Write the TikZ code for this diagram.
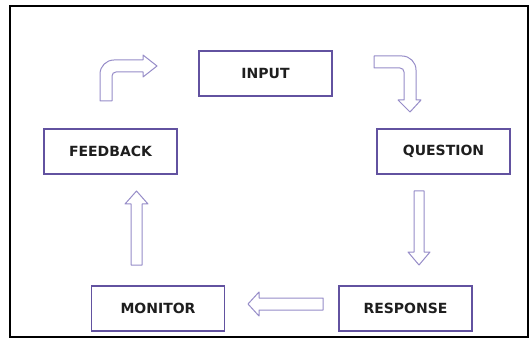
\documentclass[tikz,border=0pt]{standalone}
\usepackage{fontspec}
\newfontfamily\boxfont{DejaVu Sans}
\usetikzlibrary{calc}
\definecolor{boxpurple}{RGB}{98,82,160}
\definecolor{arrowpurple}{RGB}{150,140,200}
\definecolor{labelgray}{RGB}{30,30,30}
\tikzset{
    my-box/.style={
        draw=boxpurple, line width=1.6pt, fill=white, minimum width=133pt,
        minimum height=45pt, inner sep=0pt, text=labelgray,
        font=\boxfont\bfseries\fontsize{14}{16}\selectfont
    },
    my-arrow/.style={
        draw=arrowpurple, line width=1pt, fill=white, line join=round
    },
}
\begin{document}
\begin{tikzpicture}[x=1pt, y=-1pt]

        % FRAME
        \useasboundingbox (0,0) rectangle (532,347);
        \draw[line width=2pt] (10,6) rectangle (528,337);

        % BOXES
        \node[my-box] (INPUT)    at (265.5,73.5)  {INPUT};
        \node[my-box] (QUESTION) at (443.5,151.5) {QUESTION};
        \node[my-box] (RESPONSE) at (405.5,308.5) {RESPONSE};
        \node[my-box] (MONITOR)  at (158,308.5)   {MONITOR};
        \node[my-box] (FEEDBACK) at (110.5,151.5) {FEEDBACK};

        % INPUT TO QUESTION (BENT ARROW)
        \draw[my-arrow] (374,56) [rounded corners=14pt] -- (416,56) [sharp corners] -- (416,100)
            -- (421,100) -- (410,112) -- (398,100) -- (404,100)
            [rounded corners=4pt] -- (404,68) [sharp corners] -- (374,68) -- cycle;

        % QUESTION TO RESPONSE
        \draw[my-arrow] (414,191) -- (424,191) -- (424,252) -- (430,252) -- (419,265)
            -- (408,252) -- (414,252) -- cycle;

        % RESPONSE TO MONITOR
        \draw[my-arrow] (323,298) -- (323,310) -- (259,310) -- (259,316) -- (248,304)
            -- (259,292) -- (259,298) -- cycle;

        % MONITOR TO FEEDBACK
        \draw[my-arrow] (131,265) -- (142,265) -- (142,204) -- (148,204) -- (136.5,191)
            -- (125,204) -- (131,204) -- cycle;

        % FEEDBACK TO INPUT (BENT ARROW)
        \draw[my-arrow] (100,101) [rounded corners=14pt] -- (100,60) [sharp corners] -- (143,60)
            -- (143,55) -- (157,66) -- (143,77) -- (143,72)
            [rounded corners=4pt] -- (112,72) [sharp corners] -- (112,101) -- cycle;

    \end{tikzpicture}
\end{document}
